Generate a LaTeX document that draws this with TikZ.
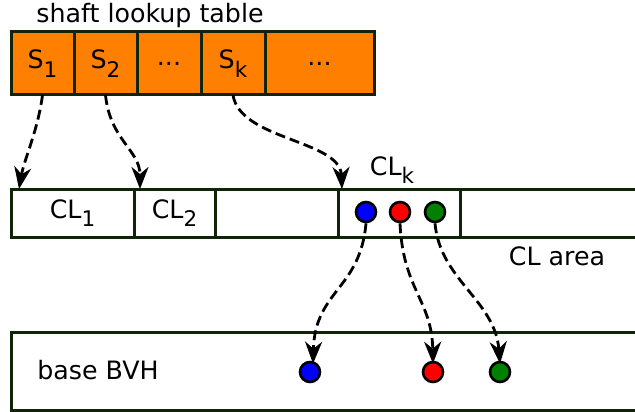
\documentclass[tikz,border=0pt]{standalone}
\usepackage{fontspec}
\setmainfont{DejaVu Sans}
\usetikzlibrary{arrows.meta}
\definecolor{bordc}{RGB}{16,36,8}
\definecolor{orng}{RGB}{255,128,0}
\definecolor{dgreen}{RGB}{0,128,0}
\newcommand\subsc[1]{\raisebox{-0.33em}{\fontsize{21.5}{21.5}\selectfont #1}}
\begin{document}
\begin{tikzpicture}[x=1pt,y=-1pt,
  every node/.style={font=\fontsize{25.3}{28}\selectfont, inner sep=0pt},
  cell/.style={draw=bordc, line width=3pt, minimum height=63pt, outer sep=0pt},
  orcell/.style={cell, fill=orng},
  clcell/.style={draw=bordc, line width=3pt, minimum height=48pt, outer sep=0pt},
  dot/.style={circle, draw=black, line width=2.6pt, minimum size=20pt},
  link/.style={draw=black, line width=2.8pt, dash pattern=on 10pt off 5pt,
    -{Stealth[length=22pt,width=17pt,inset=7pt]}}
]
\useasboundingbox (0,0) rectangle (635,412);
% title
\node (title) at (150,16) {shaft lookup table};
% lookup table
\node[orcell, minimum width=63pt] (s1) at (42.5,63.5) {S\subsc{1}};
\node[orcell, minimum width=63pt] (s2) at (105.5,63.5) {S\subsc{2}};
\node[orcell, minimum width=64pt] (s3) at (169,63.5) {...};
\node[orcell, minimum width=64pt] (sk) at (233,63.5) {S\subsc{k}};
\node[orcell, minimum width=109pt] (s5) at (319.5,63.5) {...};
% CL area
\node[clcell, minimum width=123pt] (c1) at (72.5,213) {CL\subsc{1}};
\node[clcell, minimum width=81pt] (c2) at (174.5,213) {CL\subsc{2}};
\node[clcell, minimum width=123pt] (c3) at (276.5,213) {};
\node[clcell, minimum width=122pt] (ck) at (399,213) {};
\coordinate (c5a) at (645,189);
\coordinate (c5b) at (645,237);
\draw[draw=bordc, line width=3pt] (c5a) -- (ck.north east) -- (ck.south east) -- (c5b);
\node (cklabel) at (392,170) {CL\subsc{k}};
\node (clarea) at (557,256) {CL area};
% dots in CL_k
\node[dot, fill=blue] (bl) at (366,212) {};
\node[dot, fill=red] (rd) at (400,212) {};
\node[dot, fill=dgreen] (gr) at (435,212) {};
% base BVH
\coordinate (bvA) at (645,332);
\coordinate (bvB) at (11,332);
\coordinate (bvC) at (11,410);
\coordinate (bvD) at (645,410);
\draw[draw=bordc, line width=3pt] (bvA) -- (bvB) -- (bvC) -- (bvD);
\node (bvh) at (98,370) {base BVH};
\node[dot, fill=blue] (bb) at (310,372) {};
\node[dot, fill=red] (rb) at (433,372) {};
\node[dot, fill=dgreen] (gb) at (500,372) {};
% connectors
\draw[link] (s1.south) .. controls (38,130) and (24,160) .. ([xshift=8pt]c1.north west);
\draw[link] (s2.south) .. controls (110,140) and (140,150) .. ([xshift=6pt]c2.north west);
\draw[link] (sk.south) .. controls (240,140) and (340,140) .. ([xshift=4pt]ck.north west);
\draw[link] (bl.south) .. controls (360,290) and (315,290) .. ([xshift=3pt,yshift=-3pt]bb.north);
\draw[link] (rd.south) .. controls (403,290) and (432,300) .. ([yshift=-3pt]rb.north);
\draw[link] (gr.south) .. controls (440,280) and (495,300) .. ([yshift=-3pt]gb.north);
\end{tikzpicture}
\end{document}
